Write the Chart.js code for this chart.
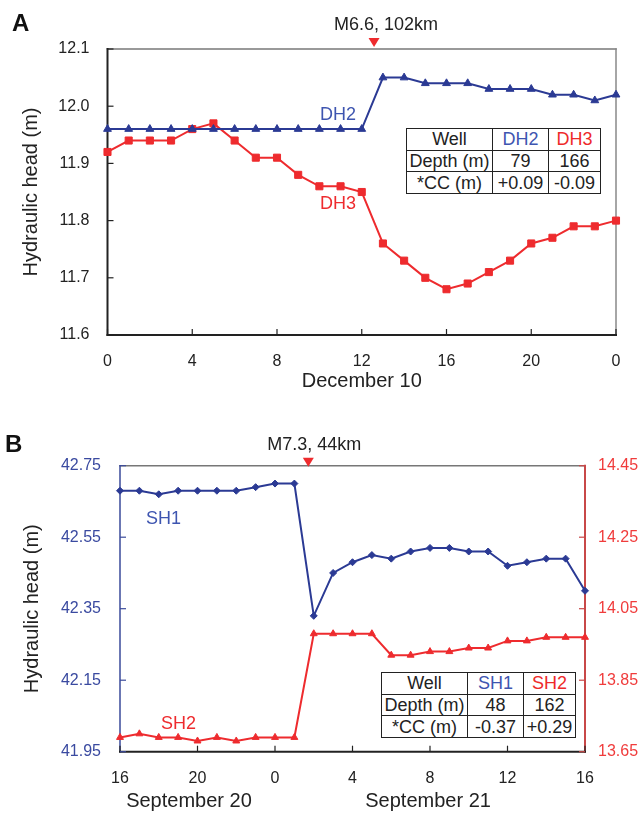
<!DOCTYPE html>
<html>
<head>
<meta charset="utf-8">
<script src="https://cdn.jsdelivr.net/npm/chart.js@4.4.1/dist/chart.umd.min.js"></script>
<style>
  body { margin: 0; background: #fff; font-family: "Liberation Sans", Arial, sans-serif; }
  #wrap { position: relative; width: 641px; height: 813px; overflow: hidden; }
  canvas { position: absolute; left: 0; }
  #chartA { top: 0; }
  #chartB { top: 400px; }
  .panel { position: absolute; font-weight: bold; font-size: 24px; line-height: 24px; color: #111; }
  table.well { position: absolute; border-collapse: collapse; table-layout: fixed; font-size: 18px; color: #222; background: #fff; }
  table.well td { border: 1.5px solid #222; text-align: center; padding: 0; line-height: 20px; white-space: nowrap; }
  .blue { color: #3e55b0; }
  .red { color: #ee2a2a; }
</style>
</head>
<body>
<div id="wrap">
  <canvas id="chartA" width="641" height="400"></canvas>
  <canvas id="chartB" width="641" height="413"></canvas>
  <div class="panel" style="left:12px; top:11px;">A</div>
  <div class="panel" style="left:5px; top:432px;">B</div>

  <table class="well" style="left:406px; top:128px; width:194px; height:66px;">
    <colgroup><col style="width:86px"><col style="width:56px"><col style="width:52px"></colgroup>
    <tr><td>Well</td><td class="blue">DH2</td><td class="red">DH3</td></tr>
    <tr><td>Depth (m)</td><td>79</td><td>166</td></tr>
    <tr><td>*CC (m)</td><td>+0.09</td><td>-0.09</td></tr>
  </table>

  <table class="well" style="left:381px; top:672px; width:194px; height:66px;">
    <colgroup><col style="width:86px"><col style="width:56px"><col style="width:52px"></colgroup>
    <tr><td>Well</td><td class="blue">SH1</td><td class="red">SH2</td></tr>
    <tr><td>Depth (m)</td><td>48</td><td>162</td></tr>
    <tr><td>*CC (m)</td><td>-0.37</td><td>+0.29</td></tr>
  </table>
</div>

<script>
// hourly readings, December 10 (DH wells)
const hoursA = ['0', '1', '2', '3', '4', '5', '6', '7', '8', '9', '10', '11', '12',
                '13', '14', '15', '16', '17', '18', '19', '20', '21', '22', '23', '0'];
const dh2 = [11.96, 11.96, 11.96, 11.96, 11.96, 11.96, 11.96, 11.96, 11.96, 11.96, 11.96, 11.96, 11.96,
             12.05, 12.05, 12.04, 12.04, 12.04, 12.03, 12.03, 12.03, 12.02, 12.02, 12.01, 12.02];
const dh3 = [11.92, 11.94, 11.94, 11.94, 11.96, 11.97, 11.94, 11.91, 11.91, 11.88, 11.86, 11.86, 11.85,
             11.76, 11.73, 11.70, 11.68, 11.69, 11.71, 11.73, 11.76, 11.77, 11.79, 11.79, 11.80];
const yTicksA = [11.6, 11.7, 11.8, 11.9, 12.0, 12.1];

// hourly readings, September 20-21 (SH wells)
const hoursB = ['16', '17', '18', '19', '20', '21', '22', '23', '0', '1', '2', '3', '4',
                '5', '6', '7', '8', '9', '10', '11', '12', '13', '14', '15', '16'];
const sh1 = [42.68, 42.68, 42.67, 42.68, 42.68, 42.68, 42.68, 42.69, 42.70, 42.70, 42.33, 42.45, 42.48,
             42.50, 42.49, 42.51, 42.52, 42.52, 42.51, 42.51, 42.47, 42.48, 42.49, 42.49, 42.40];
const sh2 = [13.69, 13.70, 13.69, 13.69, 13.68, 13.69, 13.68, 13.69, 13.69, 13.69, 13.98, 13.98, 13.98,
             13.98, 13.92, 13.92, 13.93, 13.93, 13.94, 13.94, 13.96, 13.96, 13.97, 13.97, 13.97];
const yTicksB = [41.95, 42.15, 42.35, 42.55, 42.75];
const yTicksB2 = [13.65, 13.85, 14.05, 14.25, 14.45];

const FONT = '"Liberation Sans", Arial, sans-serif';
const BLUE = '#2b3a94';
const RED = '#ee2b2e';
const INK = '#222';

// box around the plot plus short tick marks pointing inwards
const framePlugin = {
  id: 'frame',
  beforeDatasetsDraw(chart, args, opts) {
    const { ctx, chartArea: a } = chart;
    const lines = {
      top: [a.left, a.top, a.right, a.top],
      right: [a.right, a.top, a.right, a.bottom],
      left: [a.left, a.top, a.left, a.bottom],
      bottom: [a.left, a.bottom, a.right, a.bottom]
    };
    ctx.save();
    ctx.lineCap = 'square';
    for (const side of ['top', 'right', 'left', 'bottom']) {
      const s = opts[side];
      if (!s) continue;
      ctx.strokeStyle = s.color;
      ctx.lineWidth = s.width;
      const [x1, y1, x2, y2] = lines[side];
      ctx.beginPath();
      ctx.moveTo(x1, y1);
      ctx.lineTo(x2, y2);
      ctx.stroke();
    }
    ctx.lineCap = 'butt';
    for (const t of opts.ticks || []) {
      const scale = chart.scales[t.scale];
      ctx.strokeStyle = t.color;
      ctx.lineWidth = 1.2;
      scale.ticks.forEach((tick, i) => {
        if (t.every && i % t.every) return;
        const p = scale.getPixelForTick(i);
        ctx.beginPath();
        if (t.side === 'bottom') { ctx.moveTo(p, a.bottom); ctx.lineTo(p, a.bottom - 6); }
        if (t.side === 'left') { ctx.moveTo(a.left, p); ctx.lineTo(a.left + 6, p); }
        if (t.side === 'right') { ctx.moveTo(a.right, p); ctx.lineTo(a.right - 6, p); }
        ctx.stroke();
      });
    }
    ctx.restore();
  }
};

// earthquake marker, series names and date captions
const notesPlugin = {
  id: 'notes',
  afterDatasetsDraw(chart, args, opts) {
    const { ctx, chartArea: a } = chart;
    const xs = chart.scales.x;
    ctx.save();
    ctx.textAlign = 'center';
    ctx.textBaseline = 'middle';
    if (opts.quake) {
      const q = opts.quake;
      const px = xs.getPixelForValue(q.hour);
      const tip = a.top + q.tipDy;
      ctx.fillStyle = RED;
      ctx.beginPath();
      ctx.moveTo(px - 5.5, tip - 9);
      ctx.lineTo(px + 5.5, tip - 9);
      ctx.lineTo(px, tip);
      ctx.closePath();
      ctx.fill();
      ctx.fillStyle = INK;
      ctx.font = '18px ' + FONT;
      ctx.fillText(q.text, px + q.textDx, a.top + q.textDy);
    }
    for (const l of opts.labels || []) {
      ctx.fillStyle = l.color;
      ctx.font = '18px ' + FONT;
      ctx.fillText(l.text, xs.getPixelForValue(l.hour), chart.scales[l.axis].getPixelForValue(l.value));
    }
    for (const d of opts.days || []) {
      ctx.fillStyle = INK;
      ctx.font = '20px ' + FONT;
      ctx.fillText(d.text, xs.getPixelForValue(d.hour), a.bottom + d.dy);
    }
    ctx.restore();
  }
};

function xAxis(labels, height, title) {
  return {
    type: 'category',
    labels: labels,
    offset: false,
    grid: { display: false, drawTicks: false },
    border: { display: false },
    ticks: {
      autoSkip: false, maxRotation: 0, padding: 17, color: INK,
      font: { family: FONT, size: 16 },
      callback: (v, i) => (i % 4 === 0 ? labels[i] : '')
    },
    title: title ? { display: true, text: title, color: INK, font: { family: FONT, size: 20 }, padding: { top: 0, bottom: 7 } } : { display: false },
    afterFit: s => { s.height = height; }
  };
}

function yAxis(ticks, width, opts) {
  return Object.assign({
    type: 'linear',
    min: ticks[0],
    max: ticks[ticks.length - 1],
    grid: { display: false, drawTicks: false },
    border: { display: false },
    afterBuildTicks: s => { s.ticks = ticks.map(v => ({ value: v })); },
    afterFit: s => { s.width = width; }
  }, opts);
}

const yTitle = {
  display: true, text: 'Hydraulic head (m)', color: INK,
  font: { family: FONT, size: 20 }, padding: { top: 19, bottom: 0 }
};

new Chart(document.getElementById('chartA'), {
  type: 'line',
  data: {
    labels: hoursA,
    datasets: [
      { label: 'DH2', data: dh2, borderColor: BLUE, backgroundColor: BLUE, borderWidth: 2,
        pointStyle: 'triangle', pointRadius: 4.5, pointBorderWidth: 1, clip: false },
      { label: 'DH3', data: dh3, borderColor: RED, backgroundColor: RED, borderWidth: 2,
        pointStyle: 'rect', pointRadius: 5, pointBorderWidth: 1, clip: false }
    ]
  },
  options: {
    responsive: false, animation: false, devicePixelRatio: 1,
    layout: { padding: { left: 0, right: 25, top: 49, bottom: 0 } },
    scales: {
      x: xAxis(hoursA, 65, 'December 10'),
      y: yAxis(yTicksA, 107.5, {
        position: 'left',
        title: yTitle,
        ticks: { padding: 18, color: INK, font: { family: FONT, size: 16 }, callback: v => v.toFixed(1) }
      })
    },
    plugins: {
      legend: { display: false },
      tooltip: { enabled: false },
      frame: {
        top: { color: '#777', width: 1.5 },
        right: { color: '#888', width: 1.5 },
        left: { color: INK, width: 2 },
        bottom: { color: INK, width: 2 },
        ticks: [
          { scale: 'x', side: 'bottom', every: 4, color: INK },
          { scale: 'y', side: 'left', color: INK }
        ]
      },
      notes: {
        quake: { hour: 12.58, text: 'M6.6, 102km', tipDy: -2, textDx: 12, textDy: -24 },
        labels: [
          { text: 'DH2', hour: 10.88, value: 11.985, axis: 'y', color: '#3e55b0' },
          { text: 'DH3', hour: 10.88, value: 11.829, axis: 'y', color: RED }
        ]
      }
    }
  },
  plugins: [framePlugin, notesPlugin]
});

new Chart(document.getElementById('chartB'), {
  type: 'line',
  data: {
    labels: hoursB,
    datasets: [
      { label: 'SH1', data: sh1, yAxisID: 'y', borderColor: BLUE, backgroundColor: BLUE, borderWidth: 2,
        pointStyle: 'rectRot', pointRadius: 3.5, pointBorderWidth: 1, clip: false },
      { label: 'SH2', data: sh2, yAxisID: 'y1', borderColor: RED, backgroundColor: RED, borderWidth: 2,
        pointStyle: 'triangle', pointRadius: 4, pointBorderWidth: 1, clip: false }
    ]
  },
  options: {
    responsive: false, animation: false, devicePixelRatio: 1,
    layout: { padding: { left: 0, right: 0, top: 65.7, bottom: 0 } },
    scales: {
      x: xAxis(hoursB, 61.3, null),
      y: yAxis(yTicksB, 120, {
        position: 'left',
        title: Object.assign({}, yTitle, { padding: { top: 20, bottom: 0 } }),
        ticks: { padding: 19, color: '#3a4aa0', font: { family: FONT, size: 16 }, callback: v => v.toFixed(2) }
      }),
      y1: yAxis(yTicksB2, 56, {
        position: 'right',
        ticks: { padding: 13, color: '#f03c3c', font: { family: FONT, size: 16 }, callback: v => v.toFixed(2) }
      })
    },
    plugins: {
      legend: { display: false },
      tooltip: { enabled: false },
      frame: {
        top: { color: '#777', width: 1.5 },
        right: { color: '#c84848', width: 2 },
        left: { color: '#3a4a9a', width: 1.5 },
        bottom: { color: INK, width: 2 },
        ticks: [
          { scale: 'x', side: 'bottom', every: 4, color: INK },
          { scale: 'y', side: 'left', color: '#3a4a9a' },
          { scale: 'y1', side: 'right', color: '#c84848' }
        ]
      },
      notes: {
        quake: { hour: 9.72, text: 'M7.3, 44km', tipDy: 1, textDx: 6, textDy: -20.7 },
        labels: [
          { text: 'SH1', hour: 2.24, value: 42.60, axis: 'y', color: '#3e55b0' },
          { text: 'SH2', hour: 3.02, value: 13.728, axis: 'y1', color: RED }
        ],
        days: [
          { text: 'September 20', hour: 3.56, dy: 50 },
          { text: 'September 21', hour: 15.9, dy: 50 }
        ]
      }
    }
  },
  plugins: [framePlugin, notesPlugin]
});
</script>
</body>
</html>
